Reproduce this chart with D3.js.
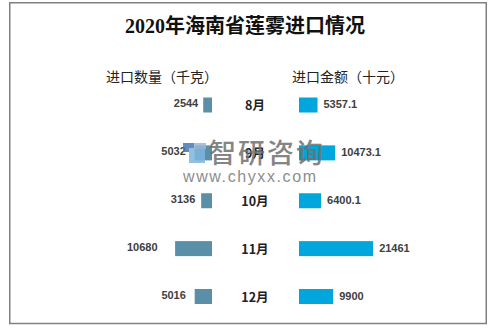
<!DOCTYPE html>
<html>
<head>
<meta charset="utf-8">
<script src="https://cdn.jsdelivr.net/npm/d3@7"></script>
<style>
  html, body { margin: 0; padding: 0; background: #fff; }
  svg { display: block; }
</style>
</head>
<body>
<svg id="chart" width="504" height="328"></svg>
<script>
// 2020年海南省莲雾进口情况 — monthly import quantity and value
const months = ["8月", "9月", "10月", "11月", "12月"];
const quantityKg = [2544, 5032, 3136, 10680, 5016];          // 进口数量（千克）
const valueTenYuan = [5357.1, 10473.1, 6400.1, 21461, 9900]; // 进口金额（十元）
const quantityLabels = ["2544", "5032", "3136", "10680", "5016"];
const valueLabels = ["5357.1", "10473.1", "6400.1", "21461", "9900"];

const W = 504, H = 328;
const svg = d3.select("#chart");
const CJK = "'Noto Sans CJK SC', 'Noto Sans', sans-serif";
const NUM = "'Liberation Sans', 'Noto Sans CJK SC', sans-serif";

// outer frame
svg.append("rect")
  .attr("x", 9.75).attr("y", 2.75)
  .attr("width", 476.5).attr("height", 320.75)
  .attr("fill", "#fff")
  .attr("stroke", "#808080")
  .attr("stroke-width", 1.5);

// title
svg.append("text")
  .attr("x", 245).attr("y", 33)
  .attr("text-anchor", "middle")
  .attr("font-family", "'Liberation Serif', 'Noto Sans CJK SC', serif")
  .attr("font-size", 20)
  .attr("font-weight", "bold")
  .attr("fill", "#111")
  .text("2020年海南省莲雾进口情况");

// column headers
svg.append("text")
  .attr("x", 162).attr("y", 82)
  .attr("text-anchor", "middle")
  .attr("font-family", CJK).attr("font-size", 14)
  .attr("fill", "#222")
  .text("进口数量（千克）");
svg.append("text")
  .attr("x", 348).attr("y", 82)
  .attr("text-anchor", "middle")
  .attr("font-family", CJK).attr("font-size", 14)
  .attr("fill", "#222")
  .text("进口金额（十元）");

// shared layout
const leftBase = 212, rightBase = 299, centerX = 255;
const barH = 15;
const y = d3.scalePoint().domain(months).range([105, 296.5]);
const len = d3.scaleLinear().domain([0, 22000]).range([0, 76]);

const rows = months.map((m, i) => ({
  month: m,
  q: quantityKg[i], v: valueTenYuan[i],
  qLabel: quantityLabels[i], vLabel: valueLabels[i]
}));

const g = svg.append("g");

// left bars: quantity, growing leftwards
g.selectAll("rect.qty").data(rows).join("rect")
  .attr("class", "qty")
  .attr("x", d => leftBase - len(d.q))
  .attr("y", d => y(d.month) - barH / 2)
  .attr("width", d => len(d.q))
  .attr("height", barH)
  .attr("fill", "#5b8fa8");

// right bars: value, growing rightwards
g.selectAll("rect.val").data(rows).join("rect")
  .attr("class", "val")
  .attr("x", rightBase)
  .attr("y", d => y(d.month) - barH / 2)
  .attr("width", d => len(d.v))
  .attr("height", barH)
  .attr("fill", "#00a6dc");

// month labels in the middle
g.selectAll("text.month").data(rows).join("text")
  .attr("class", "month")
  .attr("x", centerX)
  .attr("y", d => y(d.month) + 5)
  .attr("text-anchor", "middle")
  .attr("font-family", CJK).attr("font-size", 12.5)
  .attr("font-weight", "bold")
  .attr("fill", "#222")
  .text(d => d.month);

// quantity value labels
g.selectAll("text.qlab").data(rows).join("text")
  .attr("class", "qlab")
  .attr("x", d => leftBase - len(d.q) * 1.45 - 1)
  .attr("y", d => y(d.month) + 2)
  .attr("text-anchor", "end")
  .attr("font-family", NUM).attr("font-size", 11)
  .attr("font-weight", "bold")
  .attr("fill", "#404040")
  .text(d => d.qLabel);

// value labels
g.selectAll("text.vlab").data(rows).join("text")
  .attr("class", "vlab")
  .attr("x", d => rightBase + len(d.v) + 6)
  .attr("y", d => y(d.month) + 3)
  .attr("text-anchor", "start")
  .attr("font-family", NUM).attr("font-size", 11)
  .attr("font-weight", "bold")
  .attr("fill", "#404040")
  .text(d => d.vLabel);

// publisher mark
const wm = svg.append("g").attr("opacity", 0.85);
wm.append("rect").attr("x", 183).attr("y", 143).attr("width", 11).attr("height", 9).attr("fill", "#4a78b0");
wm.append("rect").attr("x", 189).attr("y", 148).attr("width", 16).attr("height", 15).attr("fill", "#7fb6e0");
wm.append("rect").attr("x", 194).attr("y", 143).attr("width", 12).attr("height", 6).attr("fill", "#9ab8d8");
wm.append("text")
  .attr("x", 209).attr("y", 163)
  .attr("font-family", CJK).attr("font-size", 27)
  .attr("font-weight", 500)
  .attr("fill", "#707070")
  .attr("letter-spacing", 2)
  .text("智研咨询");
wm.append("text")
  .attr("x", 183).attr("y", 182)
  .attr("font-family", "'Liberation Sans', sans-serif").attr("font-size", 16)
  .attr("fill", "#7a7a7a")
  .attr("letter-spacing", 1.6)
  .text("www.chyxx.com");
</script>
</body>
</html>
